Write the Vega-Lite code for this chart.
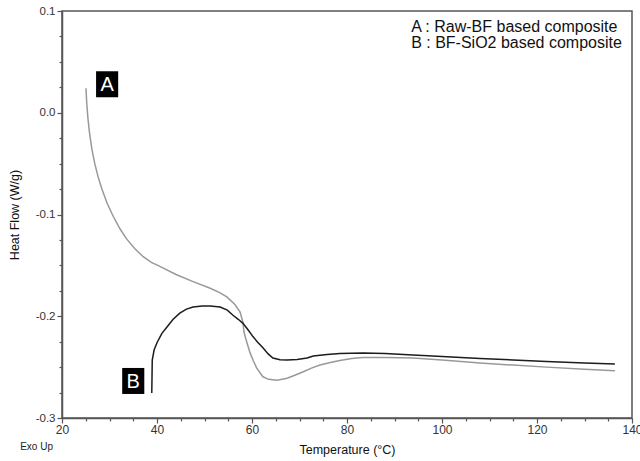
{
  "$schema": "https://vega.github.io/schema/vega-lite/v6.json",
  "width": 570,
  "height": 407,
  "autosize": {"type": "none"},
  "padding": {"left": 62, "top": 11, "right": 8, "bottom": 43},
  "background": "white",
  "config": {
    "view": {"stroke": "#555", "strokeWidth": 1.5},
    "font": "Liberation Sans"
  },
  "datasets": {
    "curves": [
      {"series": "A", "T": 25.05, "v": 0.024},
      {"series": "A", "T": 25.2, "v": 0.01},
      {"series": "A", "T": 25.45, "v": -0.005},
      {"series": "A", "T": 25.8, "v": -0.02},
      {"series": "A", "T": 26.3, "v": -0.036},
      {"series": "A", "T": 26.9, "v": -0.05},
      {"series": "A", "T": 27.6, "v": -0.063},
      {"series": "A", "T": 28.4, "v": -0.075},
      {"series": "A", "T": 29.5, "v": -0.089},
      {"series": "A", "T": 30.8, "v": -0.102},
      {"series": "A", "T": 32.2, "v": -0.114},
      {"series": "A", "T": 33.6, "v": -0.124},
      {"series": "A", "T": 35.3, "v": -0.1335},
      {"series": "A", "T": 37.1, "v": -0.1415},
      {"series": "A", "T": 38.8, "v": -0.147},
      {"series": "A", "T": 40.6, "v": -0.151},
      {"series": "A", "T": 44.0, "v": -0.159},
      {"series": "A", "T": 47.6, "v": -0.166},
      {"series": "A", "T": 51.2, "v": -0.1725},
      {"series": "A", "T": 53.3, "v": -0.177},
      {"series": "A", "T": 54.7, "v": -0.181},
      {"series": "A", "T": 56.4, "v": -0.1885},
      {"series": "A", "T": 57.5, "v": -0.196},
      {"series": "A", "T": 58.1, "v": -0.206},
      {"series": "A", "T": 58.3, "v": -0.215},
      {"series": "A", "T": 58.5, "v": -0.219},
      {"series": "A", "T": 59.0, "v": -0.227},
      {"series": "A", "T": 59.6, "v": -0.236},
      {"series": "A", "T": 60.3, "v": -0.244},
      {"series": "A", "T": 61.0, "v": -0.251},
      {"series": "A", "T": 62.3, "v": -0.2595},
      {"series": "A", "T": 63.5, "v": -0.262},
      {"series": "A", "T": 65.3, "v": -0.263},
      {"series": "A", "T": 67.4, "v": -0.261},
      {"series": "A", "T": 69.0, "v": -0.258},
      {"series": "A", "T": 70.8, "v": -0.2545},
      {"series": "A", "T": 72.5, "v": -0.251},
      {"series": "A", "T": 74.3, "v": -0.248},
      {"series": "A", "T": 76.5, "v": -0.2455},
      {"series": "A", "T": 78.5, "v": -0.2435},
      {"series": "A", "T": 81.0, "v": -0.2415},
      {"series": "A", "T": 83.4, "v": -0.2405},
      {"series": "A", "T": 88.0, "v": -0.2405},
      {"series": "A", "T": 93.9, "v": -0.241},
      {"series": "A", "T": 100.0, "v": -0.243},
      {"series": "A", "T": 108.0, "v": -0.246},
      {"series": "A", "T": 115.0, "v": -0.248},
      {"series": "A", "T": 122.0, "v": -0.25},
      {"series": "A", "T": 130.0, "v": -0.252},
      {"series": "A", "T": 136.4, "v": -0.2535},
      {"series": "B", "T": 38.9, "v": -0.2755},
      {"series": "B", "T": 38.95, "v": -0.26},
      {"series": "B", "T": 39.0, "v": -0.243},
      {"series": "B", "T": 39.4, "v": -0.233},
      {"series": "B", "T": 40.0, "v": -0.226},
      {"series": "B", "T": 41.0, "v": -0.217},
      {"series": "B", "T": 42.1, "v": -0.2105},
      {"series": "B", "T": 43.4, "v": -0.203},
      {"series": "B", "T": 44.8, "v": -0.197},
      {"series": "B", "T": 46.2, "v": -0.193},
      {"series": "B", "T": 47.6, "v": -0.191},
      {"series": "B", "T": 49.5, "v": -0.19},
      {"series": "B", "T": 51.2, "v": -0.19},
      {"series": "B", "T": 53.3, "v": -0.191},
      {"series": "B", "T": 54.8, "v": -0.194},
      {"series": "B", "T": 56.0, "v": -0.199},
      {"series": "B", "T": 57.1, "v": -0.203},
      {"series": "B", "T": 58.1, "v": -0.207},
      {"series": "B", "T": 59.2, "v": -0.2135},
      {"series": "B", "T": 60.2, "v": -0.22},
      {"series": "B", "T": 61.2, "v": -0.2255},
      {"series": "B", "T": 62.3, "v": -0.231},
      {"series": "B", "T": 63.4, "v": -0.237},
      {"series": "B", "T": 64.4, "v": -0.241},
      {"series": "B", "T": 65.9, "v": -0.2428},
      {"series": "B", "T": 67.4, "v": -0.243},
      {"series": "B", "T": 69.5, "v": -0.2425},
      {"series": "B", "T": 71.6, "v": -0.241},
      {"series": "B", "T": 72.9, "v": -0.239},
      {"series": "B", "T": 75.8, "v": -0.2375},
      {"series": "B", "T": 78.5, "v": -0.2365},
      {"series": "B", "T": 83.4, "v": -0.236},
      {"series": "B", "T": 88.0, "v": -0.2365},
      {"series": "B", "T": 93.9, "v": -0.238},
      {"series": "B", "T": 100.0, "v": -0.2395},
      {"series": "B", "T": 108.0, "v": -0.2415},
      {"series": "B", "T": 115.0, "v": -0.243},
      {"series": "B", "T": 122.0, "v": -0.2445},
      {"series": "B", "T": 130.0, "v": -0.246},
      {"series": "B", "T": 136.4, "v": -0.247}
    ],
    "tags": [
      {"tag": "A", "T": 29.5, "v": 0.028},
      {"tag": "B", "T": 35.0, "v": -0.2636}
    ],
    "legend": [
      {"text": "A : Raw-BF based composite", "T": 93.5, "v": 0.0797},
      {"text": "B : BF-SiO2 based composite", "T": 93.5, "v": 0.064}
    ],
    "note": [
      {"text": "Exo Up", "T": 11.2, "v": -0.3285}
    ]
  },
  "resolve": {"axis": {"x": "independent", "y": "independent"}},
  "layer": [
    {
      "data": {"name": "curves"},
      "mark": {"type": "line", "strokeWidth": 1.5},
      "encoding": {
        "x": {
          "field": "T", "type": "quantitative",
          "scale": {"domain": [20, 140], "nice": false, "zero": false},
          "axis": {
            "orient": "bottom",
            "title": "Temperature (°C)",
            "values": [20, 40, 60, 80, 100, 120, 140],
            "tickSize": 5,
            "grid": false,
            "domainColor": "#555", "domainWidth": 1.5,
            "tickColor": "#555", "tickWidth": 1.2,
            "labelColor": "#333", "labelFontSize": 12, "labelPadding": 1,
            "labelFlush": false, "labelOverlap": false,
            "titleFontSize": 12.5, "titleFontWeight": "normal", "titleColor": "#111", "titlePadding": 8
          }
        },
        "y": {
          "field": "v", "type": "quantitative",
          "scale": {"domain": [-0.3, 0.1], "nice": false, "zero": false},
          "axis": {
            "orient": "left",
            "title": "Heat Flow (W/g)",
            "values": [-0.3, -0.2, -0.1, 0, 0.1],
            "labelExpr": "replace(format(datum.value, '.1f'), '\u2212', '-')",
            "tickSize": 5,
            "grid": false,
            "domainColor": "#555", "domainWidth": 1.5,
            "tickColor": "#555", "tickWidth": 1.2,
            "labelColor": "#333", "labelFontSize": 11.5, "labelPadding": 2,
            "labelFlush": false, "labelOverlap": false,
            "titleFontSize": 12.5, "titleFontWeight": "normal", "titleColor": "#111", "titlePadding": 14
          }
        },
        "color": {
          "field": "series", "type": "nominal",
          "scale": {"domain": ["A", "B"], "range": ["#999999", "#1c1c1c"]},
          "legend": null
        }
      }
    },
    {
      "data": {"name": "tags"},
      "mark": {"type": "point", "shape": "M-0.85,-1L0.85,-1L0.85,1L-0.85,1Z", "filled": true, "color": "#000", "opacity": 1, "size": 676},
      "encoding": {
        "x": {
          "field": "T", "type": "quantitative",
          "axis": {
            "orient": "bottom",
            "title": null,
            "values": [25, 30, 35, 45, 50, 55, 65, 70, 75, 85, 90, 95, 105, 110, 115, 125, 130, 135],
            "labels": false, "domain": false, "grid": false,
            "tickSize": 3, "tickColor": "#555", "tickWidth": 1.2
          }
        },
        "y": {
          "field": "v", "type": "quantitative",
          "axis": {
            "orient": "left",
            "title": null,
            "values": [-0.275, -0.25, -0.225, -0.175, -0.15, -0.125, -0.075, -0.05, -0.025, 0.025, 0.05, 0.075],
            "labels": false, "domain": false, "grid": false,
            "tickSize": 3, "tickColor": "#555", "tickWidth": 1.2
          }
        }
      }
    },
    {
      "data": {"name": "tags"},
      "mark": {"type": "text", "color": "white", "fontSize": 20, "align": "center", "baseline": "middle", "dy": 1},
      "encoding": {
        "x": {"field": "T", "type": "quantitative", "axis": null},
        "y": {"field": "v", "type": "quantitative", "axis": null},
        "text": {"field": "tag"}
      }
    },
    {
      "data": {"name": "legend"},
      "mark": {"type": "text", "color": "#111", "fontSize": 16, "align": "left", "baseline": "alphabetic"},
      "encoding": {
        "x": {"field": "T", "type": "quantitative", "axis": null},
        "y": {"field": "v", "type": "quantitative", "axis": null},
        "text": {"field": "text"}
      }
    },
    {
      "data": {"name": "note"},
      "mark": {"type": "text", "color": "#222", "fontSize": 10, "align": "left", "baseline": "middle"},
      "encoding": {
        "x": {"field": "T", "type": "quantitative", "axis": null},
        "y": {"field": "v", "type": "quantitative", "axis": null},
        "text": {"field": "text"}
      }
    }
  ]
}
